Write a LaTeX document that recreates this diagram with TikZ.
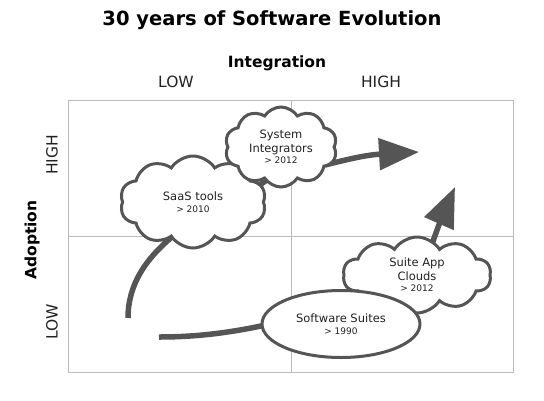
\documentclass[tikz,border=0pt]{standalone}
\usepackage{fontspec}
\setmainfont{DejaVu Sans}
\usetikzlibrary{shapes.symbols,shapes.geometric,arrows.meta}
\definecolor{ink}{HTML}{555555}
\definecolor{txt}{HTML}{222222}
\definecolor{gridc}{HTML}{BBBBBB}
\tikzset{
  cloudbox/.style={cloud, draw=ink, fill=white, line width=3pt, cloud puffs=10, cloud puff arc=115, aspect=1.5, inner sep=0pt, align=center, text=txt, font=\fontsize{11.5}{13.5}\selectfont},
  ellbox/.style={ellipse, draw=ink, fill=white, line width=3pt, inner sep=0pt, align=center, text=txt, font=\fontsize{11.5}{13.5}\selectfont},
  flow/.style={draw=ink, line width=5.5pt},
  bigtip/.style={-{Triangle[length=40pt,width=31pt]}},
  axislbl/.style={text=txt, font=\fontsize{15.5}{18}\selectfont},
  headlbl/.style={text=black, font=\bfseries\fontsize{15.5}{18}\selectfont}
}
\newcommand{\yr}[1]{{\fontsize{9}{11}\selectfont #1}}
\begin{document}
\begin{tikzpicture}[x=1pt,y=-1pt]
\useasboundingbox (0,0) rectangle (544,400);
% grid
\draw[gridc, line width=1pt] (68,100) rectangle (513,372);
\draw[gridc, line width=1pt] (291,100) -- (291,372);
\draw[gridc, line width=1pt] (68,236) -- (513,236);
% titles
\node[text=black, font=\bfseries\fontsize{19.5}{22}\selectfont] (title) at (272,20) {30 years of Software Evolution};
\node[headlbl] (integ) at (277,63) {Integration};
\node[axislbl] (lowx) at (176,82) {LOW};
\node[axislbl] (highx) at (381,82) {HIGH};
\node[headlbl, rotate=90] (adopt) at (32,240) {Adoption};
\node[axislbl, rotate=90] (highy) at (52,155) {HIGH};
\node[axislbl, rotate=90] (lowy) at (52,322) {LOW};
% flow coordinates
\coordinate (s1) at (159,337);
\coordinate (s2) at (128,318);
\coordinate (tipA) at (419,152);
\coordinate (tipB) at (455,187);
% connectors (under shapes)
\draw[flow] (s1) .. controls (200,337) and (235,332) .. (275,323);
\draw[flow] (s2) .. controls (128,285) and (145,258) .. (178,232);
\draw[flow] (250,192) -- (278,172);
\draw[flow, bigtip] (325,165) .. controls (345,160) and (365,155) .. (tipA);
\draw[flow, bigtip] (430,250) .. controls (436,232) and (444,212) .. (tipB);
% shapes
\node[cloudbox, minimum width=146pt, minimum height=92pt] (saas) at (193,202) {SaaS tools\\[-1pt]\yr{> 2010}};
\node[cloudbox, minimum width=112pt, minimum height=80pt] (si) at (281,147) {System\\Integrators\\[-2pt]\yr{> 2012}};
\node[cloudbox, minimum width=148pt, minimum height=76pt] (sac) at (417,275) {Suite App\\Clouds\\[-2pt]\yr{> 2012}};
\node[ellbox, minimum width=158pt, minimum height=67pt] (suites) at (341,324) {Software Suites\\[-1pt]\yr{> 1990}};
\end{tikzpicture}
\end{document}
